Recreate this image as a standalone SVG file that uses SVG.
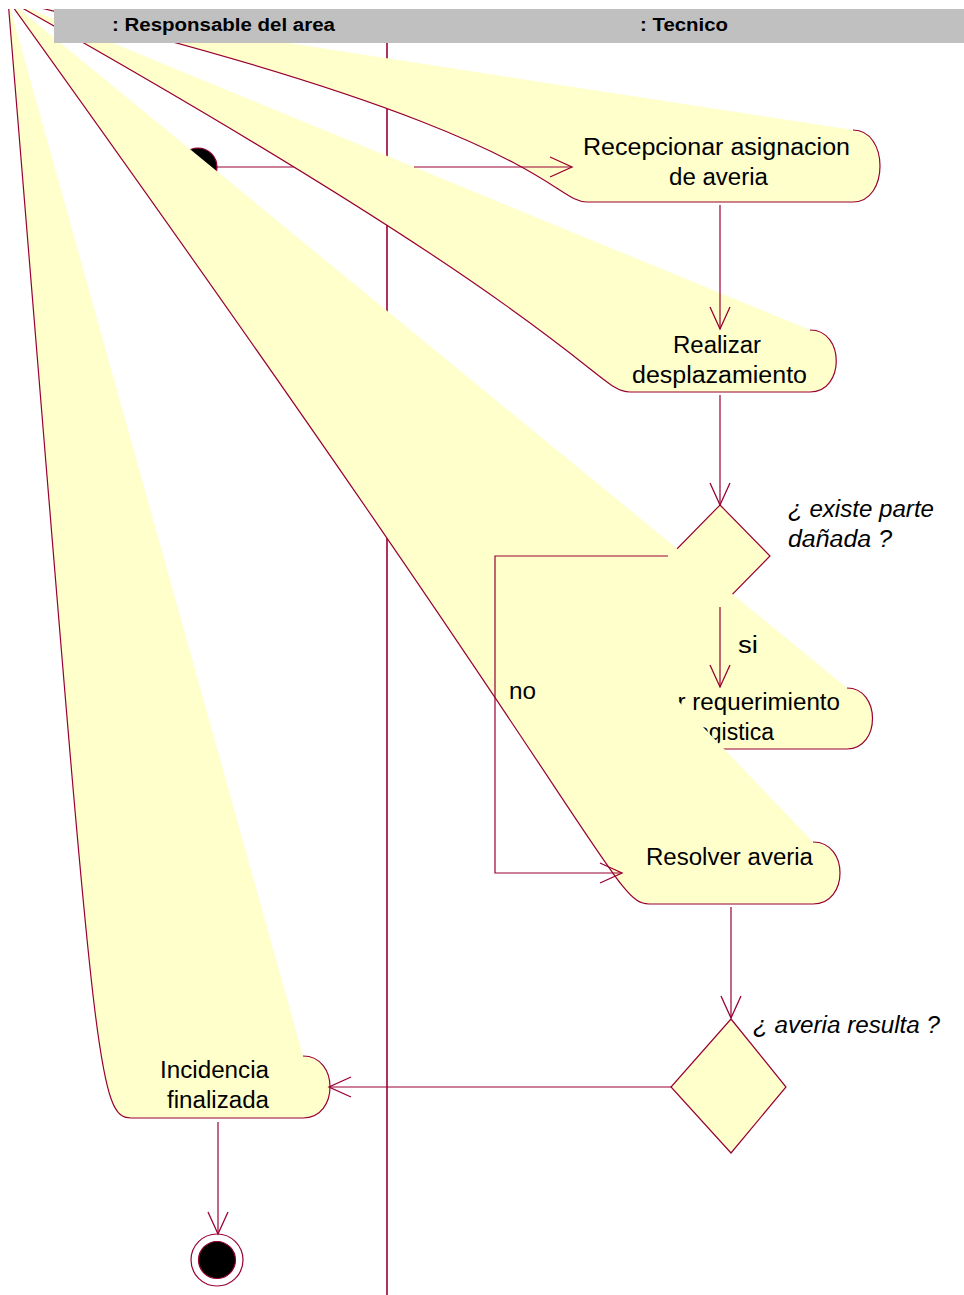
<svg xmlns="http://www.w3.org/2000/svg" width="964" height="1295" viewBox="0 0 964 1295">
<style>
.wedge{fill:#ffffcc;stroke:none}
.edge{fill:none;stroke:#990033;stroke-width:1.2}
.lbl{font-family:"Liberation Sans",Arial,sans-serif;font-size:23px;fill:#000}
.ital{font-style:italic}
.lane{font-family:"Liberation Sans",Arial,sans-serif;font-weight:bold;font-size:18px;fill:#000}
.conn{fill:none;stroke:#990033;stroke-width:1.2}
.dia{fill:#ffffcc;stroke:#990033;stroke-width:1.2}
</style>
<defs>
<clipPath id="clip"><rect x="0" y="9" width="964" height="1286"/></clipPath>
<marker id="arr" viewBox="-24 -12 26 24" refX="0" refY="0" markerWidth="26" markerHeight="24" markerUnits="userSpaceOnUse" orient="auto"><path d="M-22,-10 L0,0 L-22,10" fill="none" stroke="#990033" stroke-width="1.3"/></marker>
</defs>
<rect width="964" height="1295" fill="#ffffff"/>
<line id="swimlane" x1="387" y1="43" x2="387" y2="1295" stroke="#990033" stroke-width="1.6"/>

<g id="n-recepcionar" clip-path="url(#clip)">
<path class="wedge" d="M8,0 C551,130 551,202 587,202 L853,202 C889,202 889,130 853,130 Z"/>
<path class="edge" d="M8,0 C551,130 551,202 587,202 L853,202 C889,202 889,130 853,130"/>
<text class="lbl" x="583" y="155" textLength="267" lengthAdjust="spacingAndGlyphs">Recepcionar asignacion</text>
<text class="lbl" x="669" y="185" textLength="99" lengthAdjust="spacingAndGlyphs">de averia</text>
</g>

<g id="n-inicio">
<circle cx="198" cy="167" r="19" fill="#000" stroke="#990033" stroke-width="1.2"/>
</g>

<g id="n-realizar" clip-path="url(#clip)">
<path class="wedge" d="M8,0 C595,330 595,392 630,392 L810,392 C845,392 845,330 810,330 Z"/>
<path class="edge" d="M8,0 C595,330 595,392 630,392 L810,392 C845,392 845,330 810,330"/>
<text class="lbl" x="673" y="353" textLength="88" lengthAdjust="spacingAndGlyphs">Realizar</text>
<text class="lbl" x="632" y="383" textLength="175" lengthAdjust="spacingAndGlyphs">desplazamiento</text>
</g>

<g id="n-decision1">
<polygon class="dia" points="720,505 770,556 720,607 670,556"/>
<text class="lbl ital" x="788" y="517" textLength="146" lengthAdjust="spacingAndGlyphs">¿ existe parte</text>
<text class="lbl ital" x="788" y="547" textLength="104" lengthAdjust="spacingAndGlyphs">dañada ?</text>
</g>

<g id="n-requerimiento" clip-path="url(#clip)">
<path class="wedge" d="M8,0 C559,688 559,749 593,749 L847,749 C881,749 881,688 847,688 Z"/>
<path class="edge" d="M8,0 C559,688 559,749 593,749 L847,749 C881,749 881,688 847,688"/>
<text class="lbl" x="597" y="710" textLength="243" lengthAdjust="spacingAndGlyphs">Realizar requerimiento</text>
<text class="lbl" x="659" y="740" textLength="115" lengthAdjust="spacingAndGlyphs">de logistica</text>
</g>

<g id="n-resolver" clip-path="url(#clip)">
<path class="wedge" d="M8,0 C613,842 613,904 649,904 L813,904 C849,904 849,842 813,842 Z"/>
<path class="edge" d="M8,0 C613,842 613,904 649,904 L813,904 C849,904 849,842 813,842"/>
<text class="lbl" x="646" y="865" textLength="167" lengthAdjust="spacingAndGlyphs">Resolver averia</text>
</g>

<g id="n-incidencia" clip-path="url(#clip)">
<path class="wedge" d="M8,0 C95,1056 95,1118 131,1118 L303,1118 C339,1118 339,1056 303,1056 Z"/>
<path class="edge" d="M8,0 C95,1056 95,1118 131,1118 L303,1118 C339,1118 339,1056 303,1056"/>
<text class="lbl" x="160" y="1078" textLength="109" lengthAdjust="spacingAndGlyphs">Incidencia</text>
<text class="lbl" x="167" y="1108" textLength="102" lengthAdjust="spacingAndGlyphs">finalizada</text>
</g>

<g id="n-decision2">
<polygon class="dia" points="731,1019 786,1087 731,1153 671,1087"/>
<text class="lbl ital" x="753" y="1033" textLength="187" lengthAdjust="spacingAndGlyphs">¿ averia resulta ?</text>
</g>

<g id="n-fin">
<circle cx="217" cy="1260" r="26" fill="#ffffff" stroke="#990033" stroke-width="1.2"/>
<circle cx="217" cy="1260" r="18.5" fill="#000" stroke="#990033" stroke-width="1.2"/>
</g>

<g id="connectors">
<path class="conn" d="M217,167 L293.5,167 M414,167 L572,167" marker-end="url(#arr)"/>
<path class="conn" d="M720,205 L720,329" marker-end="url(#arr)"/>
<path class="conn" d="M720,395 L720,505" marker-end="url(#arr)"/>
<path class="conn" d="M720,607 L720,687" marker-end="url(#arr)"/>
<text class="lbl" x="738" y="653" textLength="20" lengthAdjust="spacingAndGlyphs">si</text>
<path class="conn" d="M668,556 L495,556 L495,873 L622,873" marker-end="url(#arr)"/>
<text class="lbl" x="509" y="699" textLength="27" lengthAdjust="spacingAndGlyphs">no</text>
<path class="conn" d="M731,907 L731,1018" marker-end="url(#arr)"/>
<path class="conn" d="M671,1087 L329,1087" marker-end="url(#arr)"/>
<path class="conn" d="M218,1122 L218,1234" marker-end="url(#arr)"/>
</g>

<g id="header">
<rect x="54" y="9" width="910" height="34" fill="#c0c0c0"/>
<text class="lane" x="112" y="31" textLength="223" lengthAdjust="spacingAndGlyphs">: Responsable del area</text>
<text class="lane" x="640" y="31" textLength="88" lengthAdjust="spacingAndGlyphs">: Tecnico</text>
</g>
</svg>
